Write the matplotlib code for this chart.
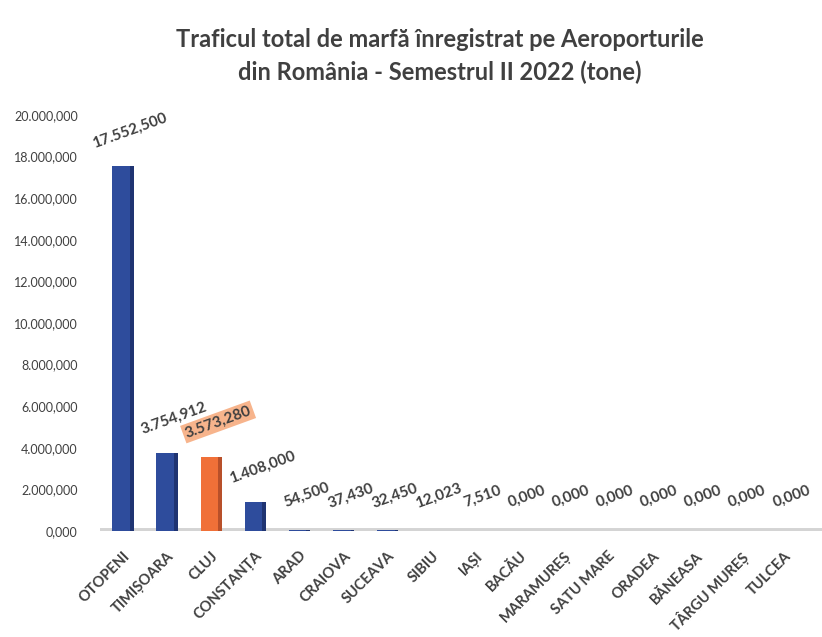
import matplotlib.pyplot as plt

airports = ["OTOPENI", "TIMIȘOARA", "CLUJ", "CONSTANȚA", "ARAD", "CRAIOVA",
            "SUCEAVA", "SIBIU", "IAȘI", "BACĂU", "MARAMUREȘ", "SATU MARE",
            "ORADEA", "BĂNEASA", "TÂRGU MUREȘ", "TULCEA"]
tone = [17552.5, 3754.912, 3573.28, 1408.0, 54.5, 37.43, 32.45, 12.023,
        7.51, 0, 0, 0, 0, 0, 0, 0]
highlight = "CLUJ"
yticks = list(range(0, 20001, 2000))

plt.rcParams['font.family'] = ['Lato', 'DejaVu Sans']
txt = '#404040'


def ro(v):
    s = f"{v:,.3f}"
    return s.replace(',', '_').replace('.', ',').replace('_', '.')


fig = plt.figure(figsize=(8.22, 6.37), dpi=100)
ax = fig.add_axes([100 / 822, 0.1664, 722 / 822, 0.653])

x = list(range(len(airports)))
front = ['#F07038' if a == highlight else '#2E4C9C' for a in airports]
side = ['#B8502A' if a == highlight else '#1F3472' for a in airports]
# front face + darker side face to mimic the 3D columns
ax.bar([xi - 0.04 for xi in x], tone, width=0.40, color=front, zorder=3)
ax.bar([xi + 0.20 for xi in x], tone, width=0.08, color=side, zorder=3)
ax.axhline(0, color='#b8b8b8', lw=5, alpha=0.6, zorder=2)

for xi, v, a in zip(x, tone, airports):
    kw = {}
    if a == highlight:
        kw['bbox'] = dict(boxstyle='square,pad=0.15', fc='#F7B48C', ec='none')
    ax.annotate(ro(v), (xi, v), xytext=(5, 25), textcoords='offset points',
                ha='center', va='center', rotation=20, fontsize=11,
                fontweight='bold', color=txt, annotation_clip=False, **kw)

ax.set_xlim(-0.52, 15.85)
ax.set_ylim(0, 20000)
ax.set_yticks(yticks)
ax.set_yticklabels([ro(t) for t in yticks], fontsize=9, color=txt)
ax.set_xticks(x)
ax.set_xticklabels(airports, rotation=45, ha='right', rotation_mode='anchor',
                   fontsize=10.5, fontweight='bold', color=txt)
ax.tick_params(axis='both', length=0)
ax.tick_params(axis='y', pad=16)
ax.tick_params(axis='x', pad=13)
for s in ax.spines.values():
    s.set_visible(False)

fig.text(0.535, 0.912, "Traficul total de marfă înregistrat pe Aeroporturile\ndin România - Semestrul II 2022 (tone)",
         ha='center', va='center', fontsize=17, fontweight='bold', color=txt,
         linespacing=1.45)

fig.savefig('out.png', dpi=100, facecolor='white')
